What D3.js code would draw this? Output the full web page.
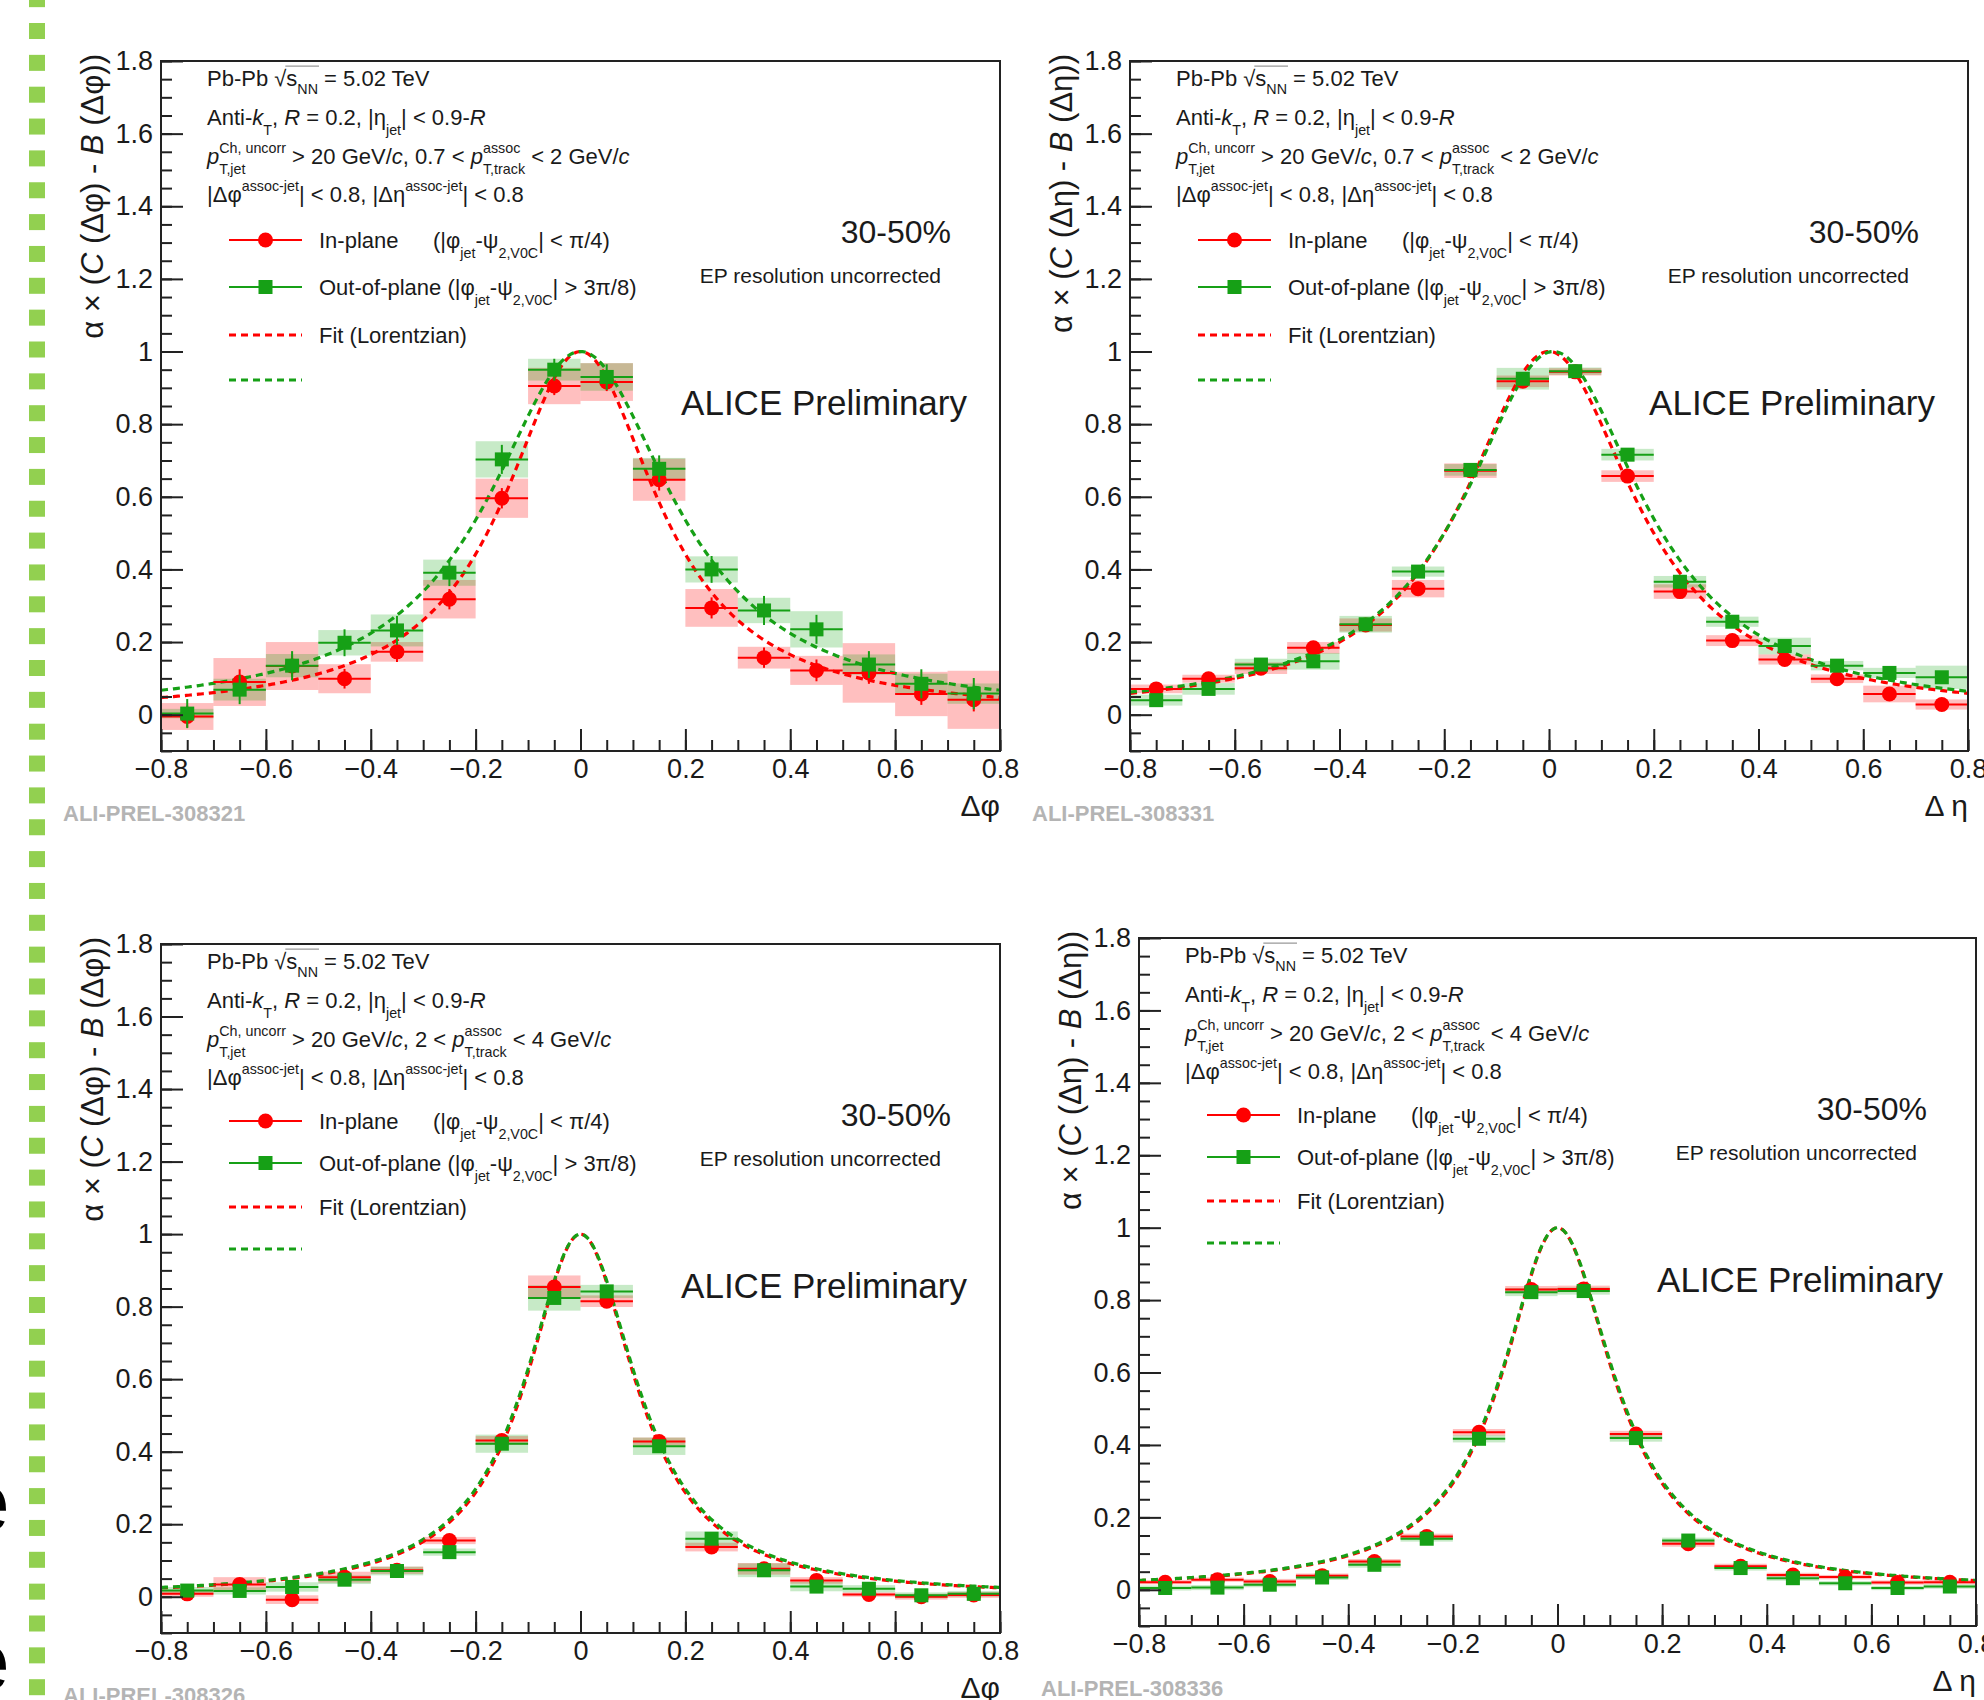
<!DOCTYPE html>
<html>
<head>
<meta charset="utf-8">
<script src="https://cdn.jsdelivr.net/npm/d3@7"></script>
<style>
  body { margin: 0; background: #fff; }
  svg { display: block; }
  svg text { font-family: "Liberation Sans", Arial, sans-serif; white-space: pre; fill: #1a1a1a; }
</style>
</head>
<body>
<svg id="chart" width="1984" height="1700"></svg>
<script>
// bin centres (width 0.1) shared by all four panels
const bins = [-0.75, -0.65, -0.55, -0.45, -0.35, -0.25, -0.15, -0.05, 0.05, 0.15, 0.25, 0.35, 0.45, 0.55, 0.65, 0.75];
const xTicks = [-0.8, -0.6, -0.4, -0.2, 0, 0.2, 0.4, 0.6, 0.8];
const yTicks = [0, 0.2, 0.4, 0.6, 0.8, 1, 1.2, 1.4, 1.6, 1.8];

// Δφ, 0.7 < pT,assoc < 2
const inPhiLow = [-0.005, 0.09, 0.134, 0.099, 0.173, 0.318, 0.596, 0.905, 0.916, 0.647, 0.294, 0.157, 0.122, 0.115, 0.057, 0.041];
const inPhiLowStat = [0.03, 0.035, 0.03, 0.027, 0.028, 0.028, 0.028, 0.025, 0.025, 0.03, 0.029, 0.028, 0.03, 0.03, 0.03, 0.032];
const inPhiLowSys = [0.037, 0.066, 0.066, 0.04, 0.027, 0.053, 0.054, 0.05, 0.052, 0.058, 0.052, 0.03, 0.04, 0.082, 0.061, 0.08];
const outPhiLow = [0.003, 0.069, 0.135, 0.198, 0.232, 0.391, 0.703, 0.95, 0.93, 0.677, 0.4, 0.287, 0.235, 0.138, 0.085, 0.058];
const outPhiLowStat = [0.04, 0.04, 0.04, 0.037, 0.04, 0.037, 0.04, 0.03, 0.035, 0.037, 0.037, 0.04, 0.04, 0.037, 0.04, 0.043];
const outPhiLowSys = [0.013, 0.03, 0.032, 0.035, 0.044, 0.036, 0.05, 0.03, 0.038, 0.03, 0.036, 0.035, 0.05, 0.028, 0.028, 0.028];

// Δη, 0.7 < pT,assoc < 2
const inEtaLow = [0.071, 0.099, 0.128, 0.184, 0.247, 0.347, 0.672, 0.918, 0.944, 0.657, 0.339, 0.204, 0.152, 0.099, 0.057, 0.028];
const inEtaLowStat = [0.012, 0.012, 0.012, 0.012, 0.012, 0.012, 0.012, 0.012, 0.012, 0.012, 0.012, 0.012, 0.012, 0.012, 0.012, 0.012];
const inEtaLowSys = [0.012, 0.011, 0.016, 0.016, 0.018, 0.024, 0.02, 0.016, 0.01, 0.016, 0.02, 0.015, 0.014, 0.012, 0.023, 0.014];
const outEtaLow = [0.04, 0.071, 0.138, 0.147, 0.249, 0.394, 0.674, 0.925, 0.946, 0.716, 0.366, 0.256, 0.189, 0.135, 0.115, 0.103];
const outEtaLowStat = [0.014, 0.014, 0.014, 0.014, 0.014, 0.014, 0.014, 0.014, 0.014, 0.014, 0.014, 0.014, 0.014, 0.014, 0.014, 0.014];
const outEtaLowSys = [0.015, 0.016, 0.016, 0.023, 0.023, 0.014, 0.016, 0.03, 0.01, 0.016, 0.016, 0.014, 0.023, 0.013, 0.014, 0.032];

// Δφ, 2 < pT,assoc < 4
const inPhiHigh = [0.008, 0.034, -0.008, 0.054, 0.073, 0.155, 0.431, 0.854, 0.815, 0.428, 0.137, 0.077, 0.045, 0.006, 0.0, 0.005];
const inPhiHighStat = [0.012, 0.012, 0.012, 0.012, 0.012, 0.012, 0.012, 0.012, 0.012, 0.012, 0.012, 0.012, 0.012, 0.012, 0.012, 0.012];
const inPhiHighSys = [0.008, 0.02, 0.012, 0.015, 0.01, 0.01, 0.012, 0.032, 0.016, 0.011, 0.012, 0.016, 0.009, 0.006, 0.008, 0.008];
const outPhiHigh = [0.017, 0.016, 0.027, 0.047, 0.071, 0.123, 0.422, 0.824, 0.842, 0.415, 0.16, 0.073, 0.028, 0.022, 0.004, 0.008];
const outPhiHighStat = [0.012, 0.012, 0.012, 0.012, 0.012, 0.012, 0.012, 0.012, 0.012, 0.012, 0.012, 0.012, 0.012, 0.012, 0.012, 0.012];
const outPhiHighSys = [0.01, 0.01, 0.013, 0.012, 0.012, 0.01, 0.025, 0.035, 0.018, 0.024, 0.02, 0.019, 0.013, 0.01, 0.008, 0.008];

// Δη, 2 < pT,assoc < 4
const inEtaHigh = [0.021, 0.028, 0.023, 0.039, 0.078, 0.147, 0.435, 0.829, 0.831, 0.43, 0.127, 0.065, 0.041, 0.035, 0.02, 0.021];
const inEtaHighStat = [0.008, 0.008, 0.008, 0.008, 0.008, 0.008, 0.008, 0.008, 0.008, 0.008, 0.008, 0.008, 0.008, 0.008, 0.008, 0.008];
const inEtaHighSys = [0.006, 0.006, 0.007, 0.006, 0.007, 0.008, 0.009, 0.01, 0.009, 0.009, 0.008, 0.007, 0.006, 0.006, 0.006, 0.006];
const outEtaHigh = [0.005, 0.006, 0.014, 0.034, 0.069, 0.141, 0.417, 0.822, 0.825, 0.419, 0.136, 0.06, 0.032, 0.018, 0.005, 0.009];
const outEtaHighStat = [0.008, 0.008, 0.008, 0.008, 0.008, 0.008, 0.008, 0.008, 0.008, 0.008, 0.008, 0.008, 0.008, 0.008, 0.008, 0.008];
const outEtaHighSys = [0.007, 0.007, 0.007, 0.007, 0.008, 0.008, 0.01, 0.011, 0.01, 0.01, 0.008, 0.007, 0.007, 0.006, 0.006, 0.006];

// Lorentzian fits: [peak, centre, width] for in-plane / out-of-plane
const fitPhiLow = [[1, 0, 0.178], [1, 0, 0.215]];
const fitEtaLow = [[1, 0, 0.2], [1, 0.008, 0.208]];
const fitPhiHigh = [[1, 0, 0.127], [1, 0, 0.13]];
const fitEtaHigh = [[1, 0, 0.129], [1, 0, 0.131]];

const red = "#ff0000";
const green = "#16a016";

const panels = [
  {x0: 161, x1: 1000, yTop: 61, yBot: 751, v: "φ", vt: "Δφ", lo: "0.7", hi: "2", tag: "ALI-PREL-308321",
   rows: [179, 226, 274, 319],
   inV: inPhiLow, inS: inPhiLowStat, inY: inPhiLowSys, outV: outPhiLow, outS: outPhiLowStat, outY: outPhiLowSys, fit: fitPhiLow},
  {x0: 1130, x1: 1968, yTop: 61, yBot: 751, v: "η", vt: "Δ η", lo: "0.7", hi: "2", tag: "ALI-PREL-308331",
   rows: [179, 226, 274, 319],
   inV: inEtaLow, inS: inEtaLowStat, inY: inEtaLowSys, outV: outEtaLow, outS: outEtaLowStat, outY: outEtaLowSys, fit: fitEtaLow},
  {x0: 161, x1: 1000, yTop: 944, yBot: 1633, v: "φ", vt: "Δφ", lo: "2", hi: "4", tag: "ALI-PREL-308326",
   rows: [177, 219, 263, 305],
   inV: inPhiHigh, inS: inPhiHighStat, inY: inPhiHighSys, outV: outPhiHigh, outS: outPhiHighStat, outY: outPhiHighSys, fit: fitPhiHigh},
  {x0: 1139, x1: 1976, yTop: 938, yBot: 1626, v: "η", vt: "Δ η", lo: "2", hi: "4", tag: "ALI-PREL-308336",
   rows: [177, 219, 263, 305],
   inV: inEtaHigh, inS: inEtaHighStat, inY: inEtaHighSys, outV: outEtaHigh, outS: outEtaHighStat, outY: outEtaHighSys, fit: fitEtaHigh}
];

const svg = d3.select("#chart");

// text with italic pieces, sub/superscripts and a square root, laid out piece by piece
function richText(parent, parts, size, anchor) {
  const g = parent.append("g");
  let cx = 0;
  const put = (str, dy, fs, italic) => g.append("text")
      .attr("xml:space", "preserve")
      .attr("x", cx).attr("y", dy)
      .attr("font-size", fs)
      .attr("font-style", italic ? "italic" : null)
      .text(str)
      .node().getComputedTextLength();
  parts.forEach(p => {
    if (typeof p === "string") cx += put(p, 0, size);
    else if (p.it) cx += put(p.it, 0, size, true);
    else if (p.root) {
      cx += put("√", 0, size);
      const start = cx;
      cx += put(p.root, 0, size);
      cx += put(p.sub, size * 0.35, size * 0.65);
      g.append("line")
          .attr("x1", start - 1).attr("x2", cx + 1)
          .attr("y1", -size * 0.9).attr("y2", -size * 0.9)
          .attr("stroke", "#999").attr("stroke-width", 1.2);
    } else {
      const w1 = p.sup ? put(p.sup, -size * 0.5, size * 0.65) : 0;
      const w2 = p.sub ? put(p.sub, size * 0.45, size * 0.65) : 0;
      cx += Math.max(w1, w2);
    }
  });
  if (anchor === "end") g.attr("transform", `translate(${-cx},0)`);
  return g;
}

function at(x, y, rot) {
  return svg.append("g").attr("transform", `translate(${x},${y})` + (rot ? ` rotate(${rot})` : ""));
}

const lorentz = f => t => f[0] / (1 + ((t - f[1]) / f[2]) ** 2);

panels.forEach(p => {
  const x = d3.scaleLinear().domain([-0.8, 0.8]).range([p.x0, p.x1]);
  const y = d3.scaleLinear().domain([-0.1, 1.8]).range([p.yBot, p.yTop]);
  const g = svg.append("g");

  // systematic boxes
  const boxes = (vals, sys, fill) => g.append("g")
      .attr("fill", fill)
    .selectAll("rect")
    .data(bins)
    .join("rect")
      .attr("x", d => x(d - 0.05))
      .attr("width", d => x(d + 0.05) - x(d - 0.05))
      .attr("y", (d, i) => y(vals[i] + sys[i]))
      .attr("height", (d, i) => y(vals[i] - sys[i]) - y(vals[i] + sys[i]));
  boxes(p.inV, p.inY, "rgba(255,0,0,0.25)");
  boxes(p.outV, p.outY, "rgba(0,160,0,0.22)");

  // fits
  const grid = d3.range(0, 401).map(i => -0.8 + i * 0.004);
  [[p.fit[0], red], [p.fit[1], green]].forEach(([f, c]) => {
    const fn = lorentz(f);
    g.append("path")
        .attr("fill", "none")
        .attr("stroke", c)
        .attr("stroke-width", 3.2)
        .attr("stroke-dasharray", "7,5")
        .attr("d", d3.line().x(t => x(t)).y(t => y(fn(t)))(grid));
  });

  // points with stat errors
  const points = (vals, stat, color, square) => {
    const s = g.append("g").attr("stroke", color).attr("stroke-width", 2);
    s.selectAll("line.h")
      .data(bins)
      .join("line")
        .attr("x1", d => x(d - 0.05)).attr("x2", d => x(d + 0.05))
        .attr("y1", (d, i) => y(vals[i])).attr("y2", (d, i) => y(vals[i]));
    s.selectAll("line.v")
      .data(bins)
      .join("line")
        .attr("x1", d => x(d)).attr("x2", d => x(d))
        .attr("y1", (d, i) => y(vals[i] + stat[i])).attr("y2", (d, i) => y(vals[i] - stat[i]));
    const m = g.append("g").attr("fill", color);
    if (square) {
      m.selectAll("rect").data(bins).join("rect")
          .attr("x", d => x(d) - 7).attr("y", (d, i) => y(vals[i]) - 7)
          .attr("width", 14).attr("height", 14);
    } else {
      m.selectAll("circle").data(bins).join("circle")
          .attr("cx", d => x(d)).attr("cy", (d, i) => y(vals[i]))
          .attr("r", 7.5);
    }
  };
  points(p.inV, p.inS, red, false);
  points(p.outV, p.outS, green, true);

  // axes
  const axisStyle = a => a
      .attr("color", "#222")
      .attr("font-family", "Liberation Sans, Arial, sans-serif")
      .attr("font-size", 27)
      .call(s => s.selectAll("line").attr("stroke-width", 2))
      .call(s => s.select(".domain").remove());
  const fmt = d3.format("~g");

  g.append("g")
      .attr("transform", `translate(0,${p.yBot})`)
      .call(d3.axisBottom(x).tickValues(d3.range(-16, 17).map(i => i * 0.05)).tickSize(-11).tickFormat(""))
      .call(axisStyle);
  g.append("g")
      .attr("transform", `translate(0,${p.yBot})`)
      .call(d3.axisBottom(x).tickValues(xTicks).tickSize(-22).tickPadding(8).tickFormat(fmt))
      .call(axisStyle);
  g.append("g")
      .attr("transform", `translate(${p.x0},0)`)
      .call(d3.axisLeft(y).tickValues(d3.range(-2, 37).map(i => i * 0.05)).tickSize(-11).tickFormat(""))
      .call(axisStyle);
  g.append("g")
      .attr("transform", `translate(${p.x0},0)`)
      .call(d3.axisLeft(y).tickValues(yTicks).tickSize(-22).tickPadding(8).tickFormat(fmt))
      .call(axisStyle);

  g.append("rect")
      .attr("x", p.x0).attr("y", p.yTop)
      .attr("width", p.x1 - p.x0).attr("height", p.yBot - p.yTop)
      .attr("fill", "none").attr("stroke", "#222").attr("stroke-width", 2);

  // axis titles
  richText(at(p.x0 - 58, p.yTop - 7, -90),
    ["α × (", {it: "C"}, ` (Δ${p.v}) - `, {it: "B"}, ` (Δ${p.v}))`], 31, "end");
  richText(at(p.x1, p.yBot + 65), [p.vt], 30, "end");

  g.append("text")
      .attr("x", p.x0 - 98).attr("y", p.yBot + 70)
      .attr("font-family", "Liberation Mono, 'Courier New', monospace")
      .attr("font-weight", "bold")
      .attr("font-size", 22)
      .style("fill", "#b4b4b4")
      .text(p.tag);

  // header
  const tx = p.x0 + 46;
  richText(at(tx, p.yTop + 25), ["Pb-Pb ", {root: "s", sub: "NN"}, " = 5.02 TeV"], 22);
  richText(at(tx, p.yTop + 64), ["Anti-", {it: "k"}, {sub: "T"}, ", ", {it: "R"}, " = 0.2, |η", {sub: "jet"}, "| < 0.9-", {it: "R"}], 22);
  richText(at(tx, p.yTop + 103), [{it: "p"}, {sup: "Ch, uncorr", sub: "T,jet"}, " > 20 GeV/", {it: "c"}, `, ${p.lo} < `,
    {it: "p"}, {sup: "assoc", sub: "T,track"}, ` < ${p.hi} GeV/`, {it: "c"}], 22);
  richText(at(tx, p.yTop + 141), ["|Δφ", {sup: "assoc-jet"}, "| < 0.8, |Δη", {sup: "assoc-jet"}, "| < 0.8"], 22);

  // legend
  const lx0 = p.x0 + 68, lx1 = p.x0 + 141, lm = (lx0 + lx1) / 2;
  const r = p.rows.map(v => p.yTop + v);
  const leg = svg.append("g");
  leg.append("line").attr("x1", lx0).attr("x2", lx1).attr("y1", r[0]).attr("y2", r[0])
      .attr("stroke", red).attr("stroke-width", 2);
  leg.append("circle").attr("cx", lm).attr("cy", r[0]).attr("r", 7.5).attr("fill", red);
  leg.append("line").attr("x1", lx0).attr("x2", lx1).attr("y1", r[1]).attr("y2", r[1])
      .attr("stroke", green).attr("stroke-width", 2);
  leg.append("rect").attr("x", lm - 7).attr("y", r[1] - 7).attr("width", 14).attr("height", 14).attr("fill", green);
  [[r[2], red], [r[3], green]].forEach(([yy, c]) => leg.append("line")
      .attr("x1", lx0).attr("x2", lx1).attr("y1", yy).attr("y2", yy)
      .attr("stroke", c).attr("stroke-width", 3.2).attr("stroke-dasharray", "7,5"));

  const ltx = p.x0 + 158;
  richText(at(ltx, r[0] + 8), ["In-plane"], 22);
  richText(at(p.x0 + 272, r[0] + 8), ["(|φ", {sub: "jet"}, "-ψ", {sub: "2,V0C"}, "| < π/4)"], 22);
  richText(at(ltx, r[1] + 8), ["Out-of-plane (|φ", {sub: "jet"}, "-ψ", {sub: "2,V0C"}, "| > 3π/8)"], 22);
  richText(at(ltx, r[2] + 8), ["Fit (Lorentzian)"], 22);

  richText(at(p.x1 - 49, p.yTop + 182), ["30-50%"], 32, "end");
  richText(at(p.x1 - 59, p.yTop + 222), ["EP resolution uncorrected"], 21, "end");
  richText(at(p.x1 - 33, p.yTop + 354), ["ALICE Preliminary"], 35, "end");
});

// slide decoration on the left edge
svg.append("g")
    .attr("fill", "#92d050")
  .selectAll("rect")
  .data(d3.range(-1, 53))
  .join("rect")
    .attr("x", 29)
    .attr("y", i => 23 + i * 31.85)
    .attr("width", 16)
    .attr("height", 16);

svg.append("g")
    .attr("font-size", 84)
  .selectAll("text")
  .data([1531, 1690])
  .join("text")
    .attr("x", -37)
    .attr("y", d => d)
    .style("fill", "#000")
    .text("e");
</script>
</body>
</html>
